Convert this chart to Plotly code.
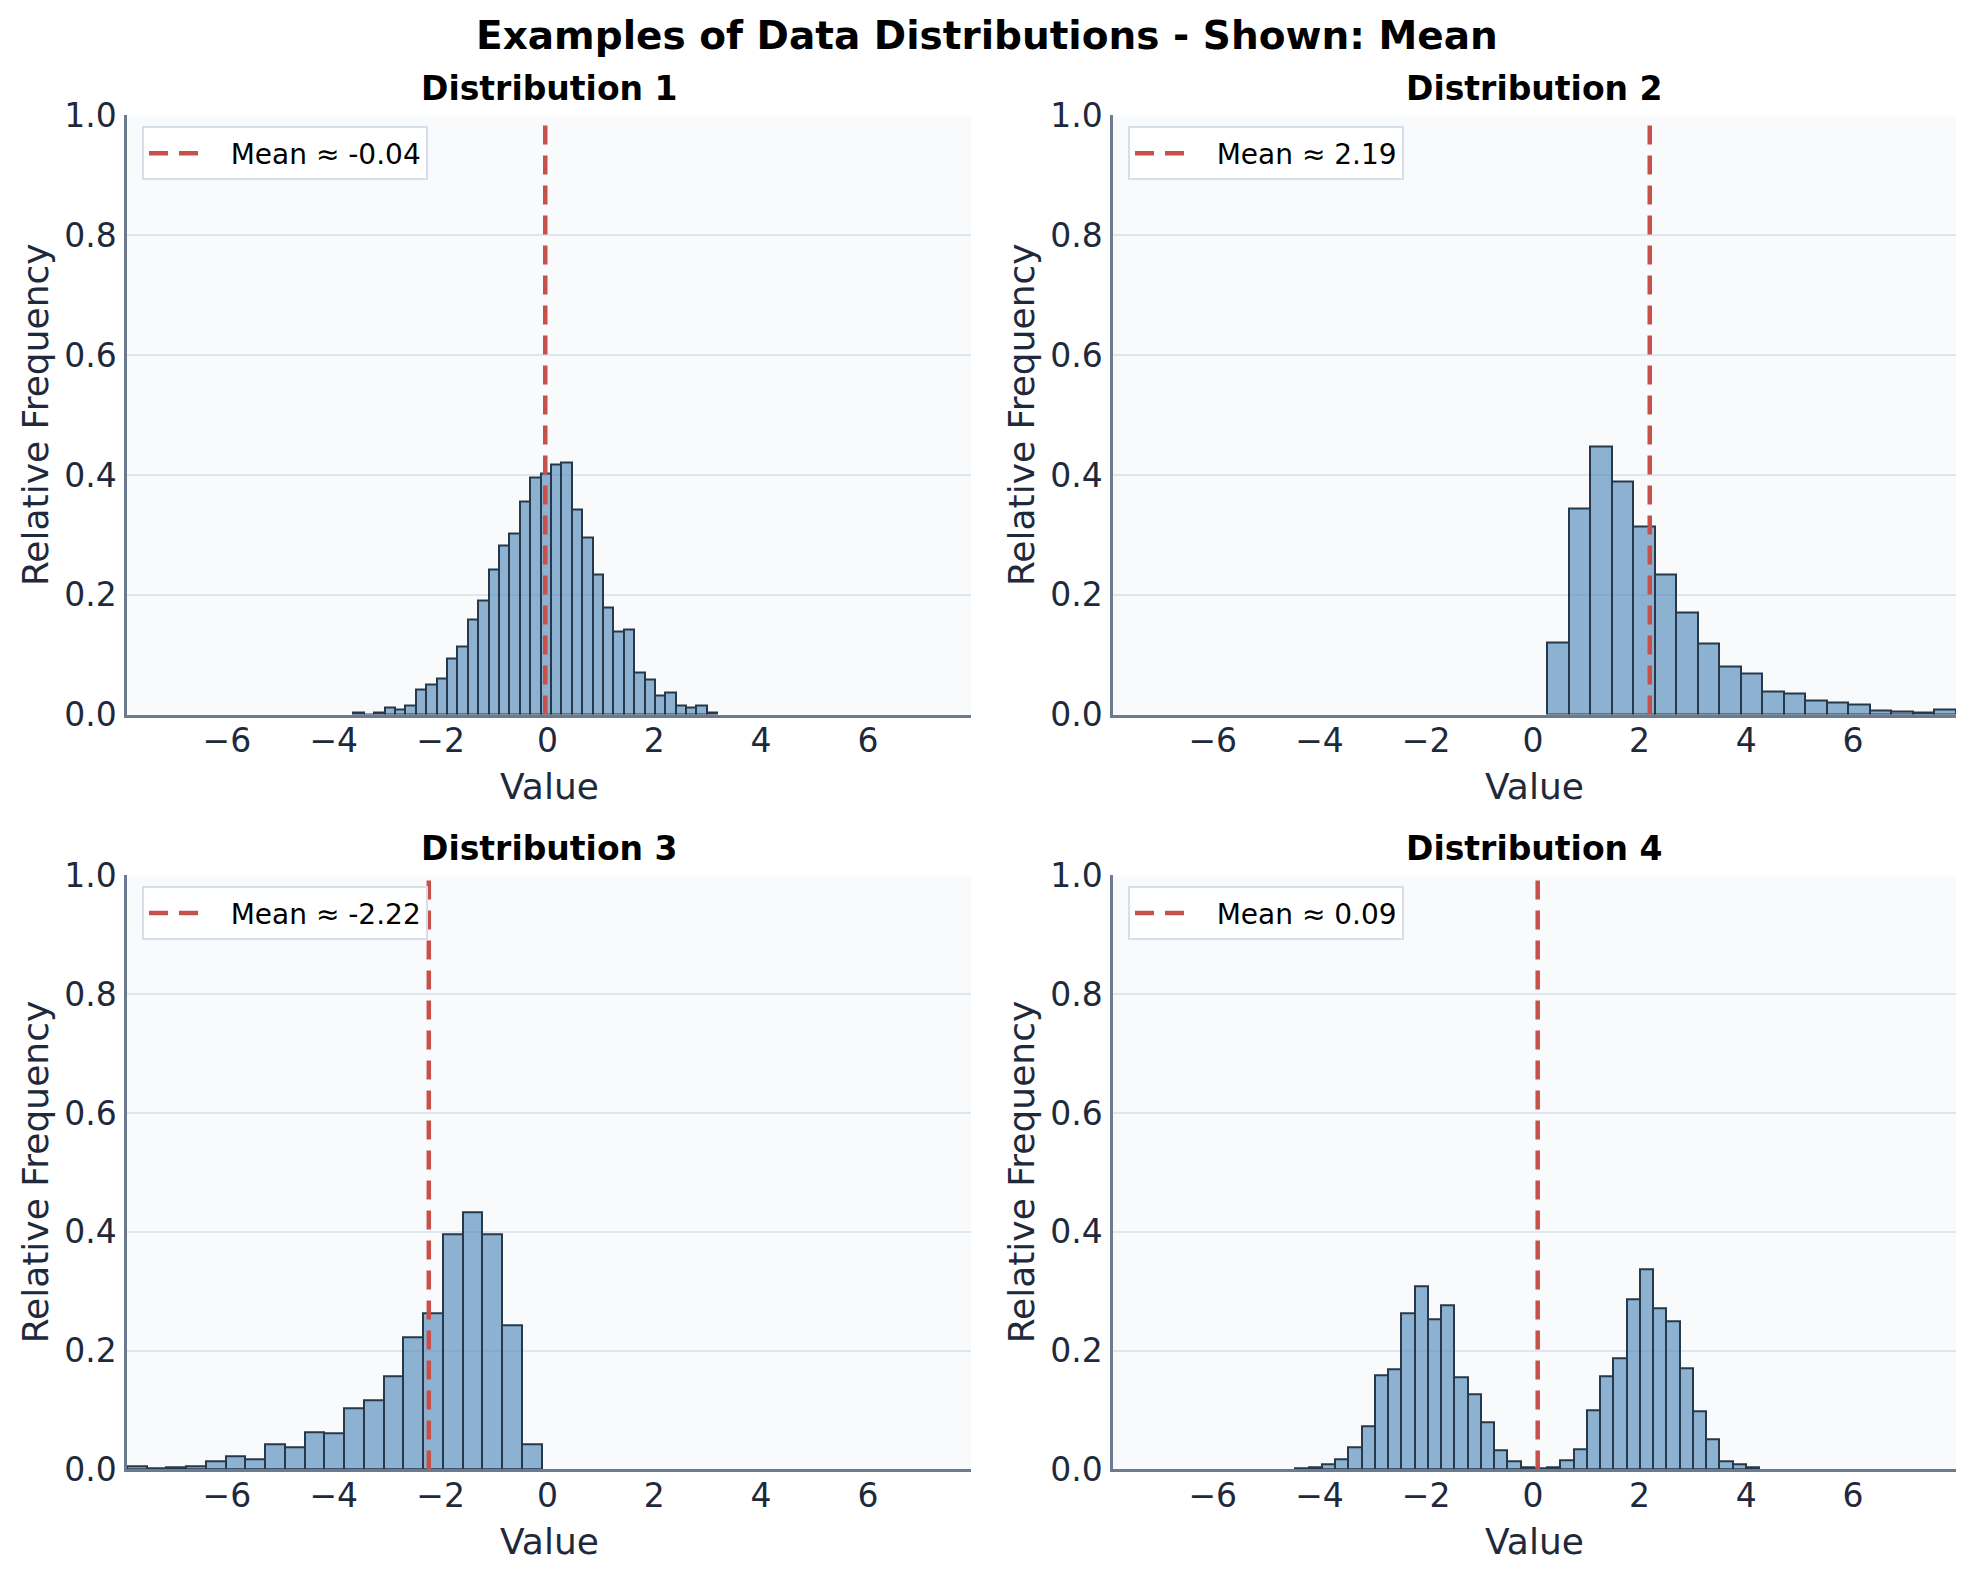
import numpy as np
import plotly.graph_objects as go

# ---------------------------------------------------------------- datos

titulos = ["Distribution 1", "Distribution 2", "Distribution 3", "Distribution 4"]
medias = [-0.04, 2.19, -2.22, 0.09]

# rango de los bins (inicio, fin) de cada histograma
rango_bins_1 = (-3.63, 3.18)
rango_bins_2 = (0.27, 7.93)
rango_bins_3 = (-7.87, -0.11)
rango_bins_4 = (-4.45, 4.24)

# frecuencias relativas (altura de cada barra)
frec_1 = [0.003, 0.0, 0.003, 0.012, 0.008, 0.015, 0.042, 0.050, 0.060, 0.094,
          0.113, 0.158, 0.191, 0.243, 0.283, 0.303, 0.355, 0.395, 0.402, 0.417,
          0.421, 0.342, 0.295, 0.233, 0.178, 0.138, 0.142, 0.070, 0.059, 0.032,
          0.037, 0.015, 0.011, 0.015, 0.003]
frec_2 = [0.120, 0.344, 0.447, 0.389, 0.314, 0.234, 0.170, 0.118, 0.081, 0.068,
          0.038, 0.036, 0.024, 0.021, 0.016, 0.007, 0.005, 0.003, 0.008]
frec_3 = [0.005, 0.002, 0.003, 0.005, 0.014, 0.022, 0.017, 0.042, 0.037, 0.063,
          0.061, 0.102, 0.117, 0.156, 0.223, 0.262, 0.396, 0.433, 0.396, 0.242,
          0.042]
frec_4 = [0.001, 0.003, 0.008, 0.017, 0.037, 0.073, 0.159, 0.169, 0.263, 0.309,
          0.252, 0.277, 0.155, 0.126, 0.079, 0.032, 0.013, 0.003, 0.001, 0.003,
          0.016, 0.034, 0.100, 0.157, 0.187, 0.287, 0.336, 0.272, 0.250, 0.171,
          0.097, 0.050, 0.013, 0.008, 0.003]

rango_x = [-7.87, 7.93]
ticks_x = [-6, -4, -2, 0, 2, 4, 6]
ticks_y = [0.0, 0.2, 0.4, 0.6, 0.8, 1.0]

# ---------------------------------------------------------------- figura

W, H = 1958, 1564
FUENTE = "DejaVu Sans"
TEXTO = "#1e293b"

# posiciones en px de la imagen final (calibradas contra la captura)
columnas = [(127, 971), (1113, 1956)]
filas = [(115, 715), (876, 1471)]


def px(v):
    return (v - 8) / W


def py(v):
    return 1 - (v * 1.024 - 27) / H


rangos = [rango_bins_1, rango_bins_2, rango_bins_3, rango_bins_4]
frecuencias = [frec_1, frec_2, frec_3, frec_4]

fig = go.Figure()
anotaciones = []
ejes = {}

for i in range(4):
    fila, col = divmod(i, 2)
    sfx = "" if i == 0 else str(i + 1)
    x0, x1 = columnas[col]
    y0, y1 = filas[fila]

    bordes = np.linspace(rangos[i][0], rangos[i][1], len(frecuencias[i]) + 1)
    centros = (bordes[:-1] + bordes[1:]) / 2
    ancho = bordes[1] - bordes[0]

    fig.add_trace(
        go.Bar(
            x=centros,
            y=frecuencias[i],
            width=ancho,
            marker=dict(color="rgba(70,130,180,0.6)", line=dict(color="#27384a", width=2)),
            xaxis="x" + sfx,
            yaxis="y" + sfx,
            showlegend=False,
        )
    )
    fig.add_trace(
        go.Scatter(
            x=[medias[i], medias[i]],
            y=[0, 1],
            mode="lines",
            line=dict(color="#C8504B", width=4.5, dash="19px,11px"),
            # espacios duros para separar el texto de la muestra de linea
            name="\u00a0\u00a0\u00a0" + f"Mean ≈ {medias[i]:.2f}",
            xaxis="x" + sfx,
            yaxis="y" + sfx,
            legend="legend" + sfx,
        )
    )

    ejes["xaxis" + sfx] = dict(
        domain=[px(x0), px(x1)],
        anchor="y" + sfx,
        range=rango_x,
        tickvals=ticks_x,
        showgrid=False,
        zeroline=False,
        showline=True,
        linecolor="#6b7a8f",
        linewidth=2.5,
        ticks="",
        ticklabelstandoff=-5,
        tickfont=dict(size=33, color=TEXTO, family=FUENTE),
    )
    ejes["yaxis" + sfx] = dict(
        domain=[py(y1), py(y0)],
        anchor="x" + sfx,
        range=[0, 1],
        tickvals=ticks_y,
        tickformat=".1f",
        showgrid=True,
        gridcolor="#dfe6ef",
        gridwidth=2,
        zeroline=False,
        showline=True,
        linecolor="#6b7a8f",
        linewidth=2.5,
        ticks="",
        ticklabelstandoff=1,
        tickfont=dict(size=33, color=TEXTO, family=FUENTE),
    )
    ejes["legend" + sfx] = dict(
        x=px(x0 + 15),
        y=py(y0 + 11),
        xanchor="left",
        yanchor="top",
        bgcolor="white",
        bordercolor="#d5dee9",
        borderwidth=2,
        itemwidth=50,
        font=dict(size=28, color="black", family=FUENTE),
    )

    # titulo de cada subgrafico y etiquetas de ejes
    anotaciones.append(dict(
        text=f"<b>{titulos[i]}</b>", x=px((x0 + x1) / 2), y=py(y0 - 27),
        xref="paper", yref="paper", showarrow=False, xanchor="center", yanchor="middle",
        font=dict(size=33, color="black", family=FUENTE),
    ))
    anotaciones.append(dict(
        text="Value", x=px((x0 + x1) / 2), y=py(y1 + 72),
        xref="paper", yref="paper", showarrow=False, xanchor="center", yanchor="middle",
        font=dict(size=36, color=TEXTO, family=FUENTE),
    ))
    anotaciones.append(dict(
        text="Relative Frequency", x=px(x0 - 92), y=py((y0 + y1) / 2),
        xref="paper", yref="paper", showarrow=False, xanchor="center", yanchor="middle",
        textangle=-90, font=dict(size=36, color=TEXTO, family=FUENTE),
    ))

anotaciones.append(dict(
    text="<b>Examples of Data Distributions - Shown: Mean</b>", x=px(987), y=py(35),
    xref="paper", yref="paper", showarrow=False, xanchor="center", yanchor="middle",
    font=dict(size=39, color="black", family=FUENTE),
))

fig.update_layout(
    width=W,
    height=H,
    margin=dict(l=0, r=0, t=0, b=0),
    paper_bgcolor="white",
    plot_bgcolor="#f8fafc",
    bargap=0,
    font=dict(family=FUENTE, color=TEXTO),
    annotations=anotaciones,
    **ejes,
)

fig.write_html("out.html")
